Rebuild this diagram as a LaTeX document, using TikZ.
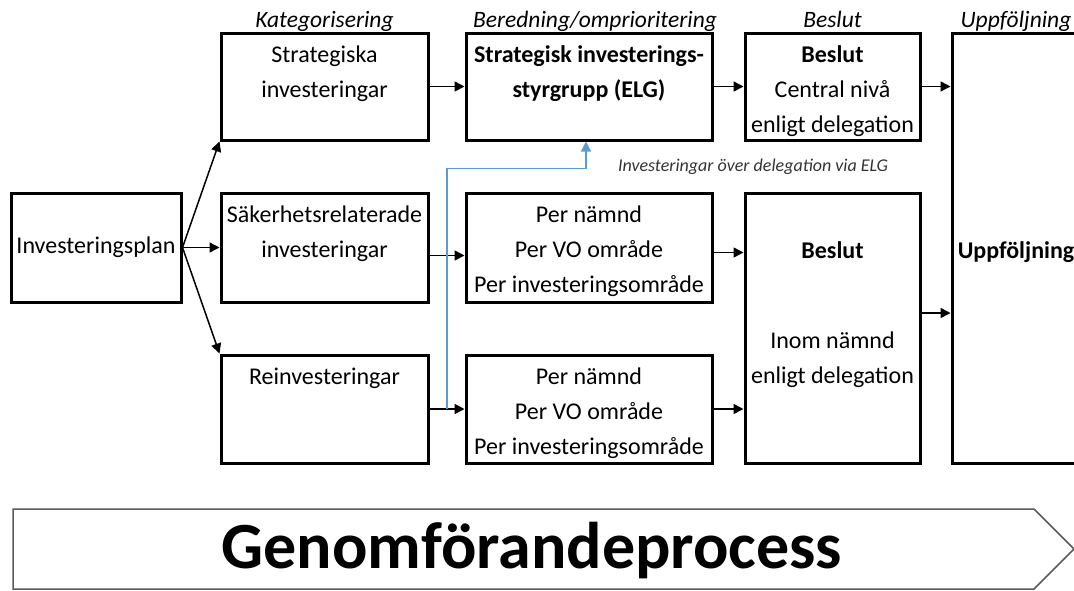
\documentclass[tikz,border=0pt]{standalone}
\usepackage{fontspec}
\setmainfont{Carlito}
\usetikzlibrary{positioning,calc,arrows.meta}
\definecolor{elgblue}{RGB}{91,155,213}
\definecolor{procgray}{RGB}{90,90,90}

\begin{document}
\begin{tikzpicture}[x=1pt, y=-1pt,
    box/.style={draw, line width=3pt, inner sep=0pt},
    txt/.style={font=\fontsize{24}{35}\selectfont, align=center, inner sep=0pt},
    hdr/.style={font=\fontsize{23.5}{26}\selectfont\itshape, inner sep=1pt, text height=0.72em, text depth=0.22em},
    note/.style={font=\fontsize{18}{20}\selectfont\itshape, text=black!80, inner sep=0pt},
    flow/.style={line width=1.5pt, -{Triangle[length=10pt,width=10pt]}},
    elgflow/.style={elgblue, line width=1.3pt, -{Triangle[length=10pt,width=10pt]}}]
    \useasboundingbox (0,0) rectangle (1074,590);

    % Investeringsplan
    \node [box, txt, minimum width=170pt, minimum height=109pt] (plan) at (96,247.5) {Investeringsplan};

    % Kategorisering
    \node [box, minimum width=207pt, minimum height=107pt] (strat) at (324.5,86.5) {};
    \node [box, minimum width=207pt, minimum height=109pt] (sak) at (324.5,247.5) {};
    \node [box, minimum width=207pt, minimum height=108pt] (reinv) at (324.5,409) {};
    \node [txt, anchor=north] (strat-t) at ([yshift=-14pt]strat.north) {Strategiska\\investeringar};
    \node [txt, anchor=north] (sak-t) at ([yshift=-14pt]sak.north) {Säkerhetsrelaterade\\investeringar};
    \node [txt, anchor=north] (reinv-t) at ([yshift=-14pt]reinv.north) {Reinvesteringar};
    \node [hdr, above=1pt of strat] (h-kat) {Kategorisering};

    % Beredning/omprioritering
    \node [box, minimum width=246pt, minimum height=107pt] (elg) at (589,86.5) {};
    \node [box, minimum width=246pt, minimum height=109pt] (pnA) at (589,247.5) {};
    \node [box, minimum width=246pt, minimum height=108pt] (pnB) at (589,409) {};
    \node [txt, anchor=north, font=\fontsize{24}{35}\selectfont\bfseries] (elg-t) at ([yshift=-14pt]elg.north) {Strategisk investerings-\\styrgrupp (ELG)};
    \node [txt, anchor=north] (pnA-t) at ([yshift=-14pt]pnA.north) {Per nämnd\\Per VO område\\Per investeringsområde};
    \node [txt, anchor=north] (pnB-t) at ([yshift=-14pt]pnB.north) {Per nämnd\\Per VO område\\Per investeringsområde};
    \node [hdr, above=1pt of elg, xshift=6pt] (h-ber) {Beredning/omprioritering};

    % Beslut
    \node [box, minimum width=175pt, minimum height=107pt] (beslA) at (832.5,86.5) {};
    \node [box, minimum width=175pt, minimum height=270pt] (beslB) at (832.5,328) {};
    \node [txt, anchor=north] (beslA-t) at ([yshift=-14pt]beslA.north) {\textbf{Beslut}\\Central nivå\\enligt delegation};
    \node [txt, anchor=north, font=\fontsize{24}{35}\selectfont\bfseries] (beslB-t) at ([yshift=-50pt]beslB.north) {Beslut};
    \node [txt, anchor=north] (beslB-u) at ([yshift=-140pt]beslB.north) {Inom nämnd\\enligt delegation};
    \node [hdr, above=1pt of beslA] (h-bes) {Beslut};

    % Uppföljning
    \node [box, minimum width=128pt, minimum height=430pt] (uppf) at (1016,248) {};
    \node [txt, font=\fontsize{24}{35}\selectfont\bfseries] (uppf-t) at ([yshift=-4pt]uppf.center) {Uppföljning};
    \node [hdr, above=1pt of uppf] (h-upp) {Uppföljning};

    % flöde
    \draw [flow] (plan.east) -- (strat.south west);
    \draw [flow] (plan.east) -- (sak.west);
    \draw [flow] (plan.east) -- (reinv.north west);
    \draw [flow] (strat.east) -- (elg.west);
    \draw [flow] ([yshift=-8pt]sak.east) -- ([yshift=-8pt]pnA.west);
    \draw [flow] (reinv.east) -- (pnB.west);
    \draw [flow] (elg.east) -- (beslA.west);
    \draw [flow] ([yshift=-5pt]pnA.east) -- ([yshift=-5pt]pnA.east -| beslB.west);
    \draw [flow] (pnB.east) -- (pnB.east -| beslB.west);
    \draw [flow] (beslA.east) -- (beslA.east -| uppf.west);
    \draw [flow] ([yshift=15pt]beslB.east) -- ([yshift=15pt]beslB.east -| uppf.west);

    % via ELG
    \coordinate (fork) at ($(reinv.east)!0.5!(pnB.west)$);
    \coordinate (elgin) at ([xshift=-3pt]elg.south);
    \draw [elgflow] (fork) |- ([yshift=-27pt]elgin) -- (elgin);
    \node [note] (elg-note) at (753,167) {Investeringar över delegation via ELG};

    % Genomförandeprocess
    \draw [procgray, line width=1.5pt] (13,509) -- (1034,509) -- (1074,549) -- (1034,589) -- (13,589) -- cycle;
    \node [font=\fontsize{66}{70}\selectfont\bfseries] (proc) at (532,551) {Genomförandeprocess};
\end{tikzpicture}
\end{document}
